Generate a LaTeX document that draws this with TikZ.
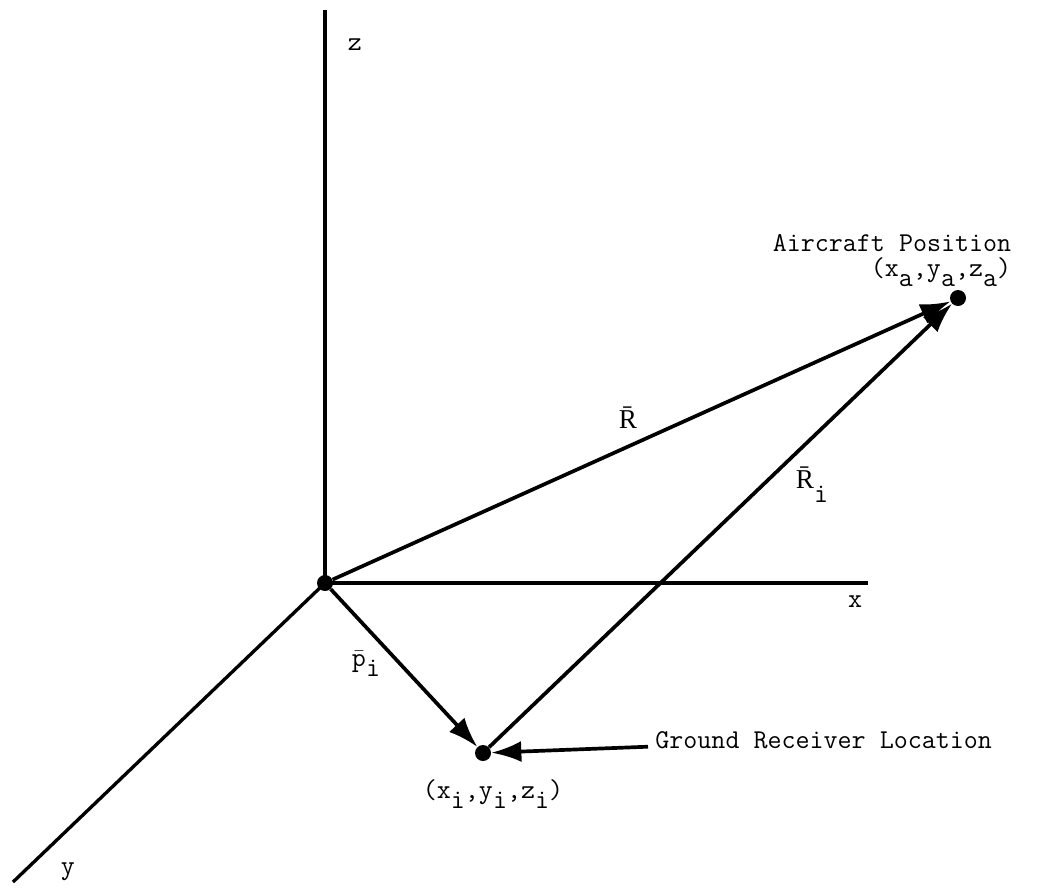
\documentclass[tikz,border=0pt]{standalone}
\usepackage{fontspec}
\newfontfamily\barfont{Liberation Serif}
\usetikzlibrary{arrows.meta, positioning}

\newcommand{\lo}[2][6pt]{\raisebox{-#1}{#2}}

\begin{document}
\begin{tikzpicture}[x=0.02cm, y=-0.02cm,
        dot/.style={circle, fill=black, inner sep=0pt, minimum size=0.32cm},
        axis/.style={line width=1.9pt},
        vec/.style={line width=2.1pt, -{Latex[length=0.6cm, width=0.42cm]}},
        lbl/.style={font=\ttfamily\fontsize{15.5}{18}\selectfont, inner sep=0pt}
    ]
    \useasboundingbox (0,0) rectangle (1047,893);
    % points
    \node[dot] (orig) at (325,583) {};
    \node[dot] (air) at (958,298) {};
    \node[dot] (rcv) at (483,753) {};
    \coordinate (zend) at (325,10);
    \coordinate (xend) at (868,583);
    \coordinate (yend) at (13,882);
    % axes
    \draw[axis] (orig.center) -- (zend);
    \draw[axis] (orig.center) -- (xend);
    \draw[axis] (orig.center) -- (yend);
    \node[lbl] (zlab) at (355,45) {z};
    \node[lbl] (xlab) at (855,602) {x};
    \node[lbl] (ylab) at (68,872) {y};
    % vectors
    \draw[vec] (orig) -- (air);
    \draw[vec] (orig) -- (rcv);
    \draw[vec] (rcv) -- (air);
    \node[lbl] (rlab) at (628,418) {\barfont R^^^^0304};
    \node[lbl] (rilab) at (812,485) {{\barfont R^^^^0304}\lo[8pt]{i}};
    \node[lbl] (plab) at (366,664) {$\bar{\hbox{\ttfamily p}}$\lo{i}};
    % texts
    \node[lbl] (airname) at (892,243) {Aircraft Position};
    \node[lbl] (aircoord) at (941,272) {(x\lo{a},y\lo{a},z\lo{a})};
    \node[lbl] (rcvcoord) at (493,794) {(x\lo{i},y\lo{i},z\lo{i})};
    \node[lbl, anchor=west, inner sep=4pt] (rcvname) at (648,740) {Ground Receiver Location};
    \draw[vec] (rcvname) -- (rcv);
\end{tikzpicture}
\end{document}
